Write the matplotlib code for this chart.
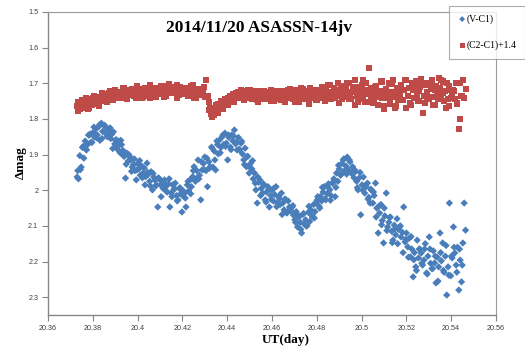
import matplotlib
matplotlib.use("Agg")
import matplotlib.pyplot as plt

# ---- data ----
ut_day = [
    20.3730, 20.3736, 20.3742, 20.3748, 20.3754, 20.3760, 20.3766, 20.3772, 20.3778, 20.3784,
    20.3790, 20.3796, 20.3802, 20.3808, 20.3814, 20.3820, 20.3826, 20.3832, 20.3838, 20.3844,
    20.3850, 20.3856, 20.3862, 20.3868, 20.3874, 20.3880, 20.3886, 20.3892, 20.3898, 20.3904,
    20.3910, 20.3916, 20.3922, 20.3928, 20.3934, 20.3940, 20.3946, 20.3952, 20.3958, 20.3964,
    20.3970, 20.3976, 20.3982, 20.3988, 20.3994, 20.4000, 20.4006, 20.4012, 20.4018, 20.4024,
    20.4030, 20.4036, 20.4042, 20.4048, 20.4054, 20.4060, 20.4066, 20.4072, 20.4078, 20.4084,
    20.4090, 20.4096, 20.4102, 20.4108, 20.4114, 20.4120, 20.4126, 20.4132, 20.4138, 20.4144,
    20.4150, 20.4156, 20.4162, 20.4168, 20.4174, 20.4180, 20.4186, 20.4192, 20.4198, 20.4204,
    20.4210, 20.4216, 20.4222, 20.4228, 20.4234, 20.4240, 20.4246, 20.4252, 20.4258, 20.4264,
    20.4270, 20.4276, 20.4282, 20.4288, 20.4294, 20.4300, 20.4306, 20.4312, 20.4318, 20.4324,
    20.4330, 20.4336, 20.4342, 20.4348, 20.4354, 20.4360, 20.4366, 20.4372, 20.4378, 20.4384,
    20.4390, 20.4396, 20.4402, 20.4408, 20.4414, 20.4420, 20.4426, 20.4432, 20.4438, 20.4444,
    20.4450, 20.4456, 20.4462, 20.4468, 20.4474, 20.4480, 20.4486, 20.4492, 20.4498, 20.4504,
    20.4510, 20.4516, 20.4522, 20.4528, 20.4534, 20.4540, 20.4546, 20.4552, 20.4558, 20.4564,
    20.4570, 20.4576, 20.4582, 20.4588, 20.4594, 20.4600, 20.4606, 20.4612, 20.4618, 20.4624,
    20.4630, 20.4636, 20.4642, 20.4648, 20.4654, 20.4660, 20.4666, 20.4672, 20.4678, 20.4684,
    20.4690, 20.4696, 20.4702, 20.4708, 20.4714, 20.4720, 20.4726, 20.4732, 20.4738, 20.4744,
    20.4750, 20.4756, 20.4762, 20.4768, 20.4774, 20.4780, 20.4786, 20.4792, 20.4798, 20.4804,
    20.4810, 20.4816, 20.4822, 20.4828, 20.4834, 20.4840, 20.4846, 20.4852, 20.4858, 20.4864,
    20.4870, 20.4876, 20.4882, 20.4888, 20.4894, 20.4900, 20.4906, 20.4912, 20.4918, 20.4924,
    20.4930, 20.4936, 20.4942, 20.4948, 20.4954, 20.4960, 20.4966, 20.4972, 20.4978, 20.4984,
    20.4990, 20.4996, 20.5002, 20.5008, 20.5014, 20.5020, 20.5026, 20.5032, 20.5038, 20.5044,
    20.5050, 20.5056, 20.5062, 20.5068, 20.5074, 20.5080, 20.5086, 20.5092, 20.5098, 20.5104,
    20.5110, 20.5116, 20.5122, 20.5128, 20.5134, 20.5140, 20.5146, 20.5152, 20.5158, 20.5164,
    20.5170, 20.5176, 20.5182, 20.5188, 20.5194, 20.5200, 20.5206, 20.5212, 20.5218, 20.5224,
    20.5230, 20.5236, 20.5242, 20.5248, 20.5254, 20.5260, 20.5266, 20.5272, 20.5278, 20.5284,
    20.5290, 20.5296, 20.5302, 20.5308, 20.5314, 20.5320, 20.5326, 20.5332, 20.5338, 20.5344,
    20.5350, 20.5356, 20.5362, 20.5368, 20.5374, 20.5380, 20.5386, 20.5392, 20.5398, 20.5404,
    20.5410, 20.5416, 20.5422, 20.5428, 20.5434, 20.5440, 20.5446, 20.5452, 20.5458, 20.5464,
    # second (interleaved) group of frames
    20.3733, 20.3745, 20.3757, 20.3769, 20.3781, 20.3793, 20.3805, 20.3817, 20.3829, 20.3841,
    20.3853, 20.3865, 20.3877, 20.3889, 20.3901, 20.3913, 20.3925, 20.3937, 20.3949, 20.3961,
    20.3973, 20.3985, 20.3997, 20.4009, 20.4021, 20.4033, 20.4045, 20.4057, 20.4069, 20.4081,
    20.4093, 20.4105, 20.4117, 20.4129, 20.4141, 20.4153, 20.4165, 20.4177, 20.4189, 20.4201,
    20.4213, 20.4225, 20.4237, 20.4249, 20.4261, 20.4273, 20.4285, 20.4297, 20.4309, 20.4321,
    20.4333, 20.4345, 20.4357, 20.4369, 20.4381, 20.4393, 20.4405, 20.4417, 20.4429, 20.4441,
    20.4453, 20.4465, 20.4477, 20.4489, 20.4501, 20.4513, 20.4525, 20.4537, 20.4549, 20.4561,
    20.4573, 20.4585, 20.4597, 20.4609, 20.4621, 20.4633, 20.4645, 20.4657, 20.4669, 20.4681,
    20.4693, 20.4705, 20.4717, 20.4729, 20.4741, 20.4753, 20.4765, 20.4777, 20.4789, 20.4801,
    20.4813, 20.4825, 20.4837, 20.4849, 20.4861, 20.4873, 20.4885, 20.4897, 20.4909, 20.4921,
    20.4933, 20.4945, 20.4957, 20.4969, 20.4981, 20.4993, 20.5005, 20.5017, 20.5029, 20.5041,
    20.5053, 20.5065, 20.5077, 20.5089, 20.5101, 20.5113, 20.5125, 20.5137, 20.5149, 20.5161,
    20.5173, 20.5185, 20.5197, 20.5209, 20.5221, 20.5233, 20.5245, 20.5257, 20.5269, 20.5281,
    20.5293, 20.5305, 20.5317, 20.5329, 20.5341, 20.5353, 20.5365, 20.5377, 20.5389, 20.5401,
    20.5413, 20.5425, 20.5437, 20.5449,
]

v_c1 = [
    1.963, 1.968, 1.903, 1.935, 1.880, 1.910, 1.862, 1.887, 1.871, 1.845,
    1.842, 1.866, 1.838, 1.851, 1.828, 1.845, 1.822, 1.860, 1.812, 1.835,
    1.818, 1.840, 1.826, 1.848, 1.832, 1.855, 1.842, 1.836, 1.870, 1.858,
    1.878, 1.862, 1.895, 1.872, 1.888, 1.905, 1.966, 1.896, 1.918, 1.905,
    1.915, 1.935, 1.928, 1.945, 1.971, 1.925, 1.940, 1.958, 1.932, 1.952,
    1.938, 1.962, 1.924, 1.955, 1.975, 1.948, 1.999, 1.963, 1.972, 1.985,
    2.047, 1.968, 1.985, 1.975, 1.995, 1.971, 1.990, 2.005, 1.982, 2.047,
    2.008, 1.985, 1.998, 1.980, 2.015, 2.027, 1.995, 2.010, 2.061, 2.002,
    2.008, 2.047, 1.985, 2.002, 1.971, 1.990, 1.962, 1.934, 1.975, 1.945,
    1.915, 1.958, 2.027, 1.943, 1.925, 1.907, 1.945, 1.990, 1.920, 1.934,
    1.879, 1.935, 1.890, 1.943, 1.862, 1.898, 1.859, 1.880, 1.850, 1.872,
    1.840, 1.868, 1.915, 1.852, 1.879, 1.845, 1.862, 1.831, 1.870, 1.887,
    1.852, 1.887, 1.868, 1.898, 1.915, 1.882, 1.934, 1.905, 1.952, 1.925,
    1.940, 1.968, 1.952, 1.999, 2.036, 1.978, 1.971, 1.995, 2.008, 1.985,
    2.027, 2.005, 1.990, 2.047, 2.015, 1.999, 2.030, 2.012, 1.990, 2.036,
    2.018, 2.040, 2.008, 2.036, 2.055, 2.025, 2.064, 2.030, 2.047, 2.058,
    2.047, 2.070, 2.083, 2.060, 2.103, 2.075, 2.090, 2.120, 2.068, 2.095,
    2.083, 2.100, 2.062, 2.088, 2.055, 2.075, 2.040, 2.060, 2.036, 2.018,
    2.045, 2.018, 2.030, 2.005, 1.990, 2.027, 2.010, 1.982, 1.999, 2.015,
    1.980, 1.968, 2.018, 1.952, 1.975, 1.940, 1.958, 1.925, 1.915, 1.945,
    1.932, 1.907, 1.943, 1.920, 1.952, 1.934, 1.965, 1.948, 1.975, 1.999,
    1.965, 2.069, 1.985, 1.963, 2.008, 1.990, 1.980, 2.020, 2.036, 2.000,
    2.036, 2.015, 1.980, 2.050, 2.120, 2.064, 2.040, 2.085, 2.148, 2.072,
    2.008, 2.103, 2.090, 2.075, 2.115, 2.140, 2.098, 2.125, 2.080, 2.110,
    2.103, 2.131, 2.118, 2.047, 2.145, 2.120, 2.159, 2.135, 2.187, 2.165,
    2.243, 2.175, 2.215, 2.140, 2.190, 2.165, 2.176, 2.210, 2.196, 2.150,
    2.232, 2.185, 2.131, 2.205, 2.220, 2.170, 2.204, 2.260, 2.188, 2.215,
    2.120, 2.198, 2.148, 2.230, 2.185, 2.294, 2.215, 2.036, 2.240, 2.190,
    2.103, 2.176, 2.210, 2.160, 2.280, 2.196, 2.257, 2.148, 2.036, 2.112,
    # second group
    1.945, 1.942, 1.877, 1.885, 1.845, 1.865, 1.823, 1.853, 1.817, 1.855,
    1.818, 1.850, 1.825, 1.883, 1.860, 1.887, 1.860, 1.903, 1.927, 1.900,
    1.947, 1.912, 1.943, 1.917, 1.965, 1.985, 1.950, 1.988, 1.953, 1.988,
    1.965, 2.018, 1.978, 2.003, 1.968, 2.018, 1.995, 2.030, 1.993, 2.015,
    2.022, 1.975, 2.010, 1.945, 1.968, 1.968, 1.920, 1.942, 1.910, 1.938,
    1.882, 1.915, 1.872, 1.895, 1.845, 1.877, 1.845, 1.886, 1.848, 1.865,
    1.885, 1.863, 1.928, 1.905, 1.935, 1.917, 1.980, 1.963, 2.015, 1.982,
    2.033, 1.997, 2.026, 1.994, 2.046, 2.024, 2.068, 2.025, 2.062, 2.053,
    2.043, 2.090, 2.070, 2.110, 2.065, 2.100, 2.045, 2.070, 2.078, 2.028,
    2.050, 1.992, 2.024, 1.990, 2.028, 1.977, 1.992, 1.930, 1.955, 1.912,
    1.955, 1.915, 1.953, 1.943, 1.993, 1.950, 2.000, 1.987, 2.025, 1.997,
    2.005, 2.075, 2.045, 2.097, 2.050, 2.113, 2.077, 2.147, 2.108, 2.150,
    2.100, 2.175, 2.138, 2.188, 2.130, 2.195, 2.225, 2.165, 2.205, 2.165,
    2.235, 2.165, 2.220, 2.185, 2.255, 2.175, 2.225, 2.155, 2.238, 2.185,
    2.160, 2.230, 2.165, 2.210,
]

c2_c1_plus = [
    1.765, 1.752, 1.771, 1.758, 1.748, 1.768, 1.760, 1.745, 1.772, 1.755,
    1.748, 1.760, 1.742, 1.756, 1.738, 1.752, 1.765, 1.740, 1.748, 1.735,
    1.742, 1.730, 1.751, 1.738, 1.726, 1.745, 1.735, 1.748, 1.728, 1.740,
    1.735, 1.725, 1.742, 1.730, 1.722, 1.738, 1.728, 1.745, 1.720, 1.732,
    1.728, 1.718, 1.735, 1.722, 1.740, 1.726, 1.715, 1.732, 1.720, 1.738,
    1.722, 1.735, 1.715, 1.728, 1.742, 1.720, 1.730, 1.712, 1.726, 1.738,
    1.718, 1.730, 1.712, 1.725, 1.708, 1.722, 1.735, 1.715, 1.728, 1.720,
    1.715, 1.728, 1.710, 1.722, 1.705, 1.718, 1.732, 1.712, 1.725, 1.716,
    1.722, 1.712, 1.730, 1.718, 1.735, 1.708, 1.725, 1.740, 1.715, 1.728,
    1.720, 1.732, 1.715, 1.728, 1.722, 1.738, 1.690, 1.735, 1.752, 1.768,
    1.785, 1.770, 1.790, 1.762, 1.778, 1.758, 1.772, 1.750, 1.765, 1.755,
    1.745, 1.758, 1.740, 1.752, 1.735, 1.748, 1.730, 1.742, 1.728, 1.738,
    1.725, 1.738, 1.720, 1.732, 1.745, 1.722, 1.735, 1.718, 1.740, 1.730,
    1.728, 1.742, 1.722, 1.735, 1.748, 1.725, 1.738, 1.730, 1.745, 1.722,
    1.730, 1.745, 1.725, 1.738, 1.750, 1.728, 1.740, 1.722, 1.745, 1.735,
    1.740, 1.728, 1.748, 1.722, 1.736, 1.752, 1.730, 1.718, 1.742, 1.735,
    1.728, 1.745, 1.735, 1.720, 1.740, 1.752, 1.725, 1.738, 1.715, 1.742,
    1.735, 1.722, 1.745, 1.712, 1.730, 1.740, 1.718, 1.732, 1.748, 1.725,
    1.720, 1.735, 1.710, 1.742, 1.728, 1.715, 1.738, 1.705, 1.730, 1.745,
    1.725, 1.712, 1.740, 1.720, 1.700, 1.735, 1.718, 1.745, 1.708, 1.728,
    1.715, 1.738, 1.700, 1.728, 1.745, 1.710, 1.722, 1.690, 1.735, 1.752,
    1.718, 1.735, 1.705, 1.745, 1.722, 1.698, 1.730, 1.657, 1.752, 1.712,
    1.728, 1.745, 1.710, 1.738, 1.760, 1.722, 1.695, 1.740, 1.772, 1.730,
    1.715, 1.742, 1.700, 1.758, 1.725, 1.690, 1.738, 1.765, 1.712, 1.748,
    1.730, 1.705, 1.748, 1.720, 1.690, 1.770, 1.735, 1.712, 1.755, 1.700,
    1.718, 1.740, 1.695, 1.728, 1.750, 1.710, 1.688, 1.783, 1.735, 1.705,
    1.725, 1.698, 1.745, 1.715, 1.690, 1.738, 1.760, 1.708, 1.730, 1.685,
    1.712, 1.738, 1.695, 1.750, 1.722, 1.700, 1.745, 1.765, 1.718, 1.732,
    1.720, 1.745, 1.700, 1.758, 1.828, 1.800, 1.735, 1.690, 1.742, 1.715,
    # second group
    1.778, 1.752, 1.765, 1.741, 1.770, 1.748, 1.735, 1.758, 1.742, 1.728,
    1.750, 1.732, 1.722, 1.745, 1.718, 1.738, 1.728, 1.712, 1.742, 1.725,
    1.715, 1.735, 1.708, 1.728, 1.740, 1.712, 1.722, 1.705, 1.732, 1.718,
    1.725, 1.708, 1.738, 1.715, 1.702, 1.728, 1.720, 1.740, 1.710, 1.730,
    1.712, 1.735, 1.722, 1.705, 1.742, 1.718, 1.728, 1.710, 1.738, 1.775,
    1.795, 1.768, 1.782, 1.758, 1.772, 1.748, 1.760, 1.740, 1.752, 1.730,
    1.742, 1.725, 1.748, 1.735, 1.720, 1.745, 1.730, 1.752, 1.722, 1.738,
    1.745, 1.728, 1.718, 1.750, 1.735, 1.722, 1.748, 1.730, 1.742, 1.715,
    1.738, 1.752, 1.725, 1.712, 1.745, 1.730, 1.758, 1.720, 1.735, 1.748,
    1.728, 1.715, 1.750, 1.735, 1.705, 1.742, 1.722, 1.755, 1.712, 1.738,
    1.700, 1.745, 1.725, 1.762, 1.710, 1.735, 1.692, 1.752, 1.720, 1.740,
    1.755, 1.708, 1.738, 1.695, 1.765, 1.725, 1.745, 1.702, 1.770, 1.730,
    1.712, 1.748, 1.690, 1.735, 1.760, 1.705, 1.742, 1.722, 1.698, 1.755,
    1.738, 1.700, 1.762, 1.718, 1.745, 1.692, 1.728, 1.768, 1.708, 1.740,
    1.722, 1.755, 1.698, 1.735,
]

series_labels = ["(V-C1)", "(C2-C1)+1.4"]
title_text = "2014/11/20 ASASSN-14jv"
x_ticks = [20.36, 20.38, 20.40, 20.42, 20.44, 20.46, 20.48, 20.50, 20.52, 20.54, 20.56]
x_tick_labels = ["20.36", "20.38", "20.4", "20.42", "20.44", "20.46", "20.48",
                 "20.5", "20.52", "20.54", "20.56"]
y_ticks = [1.5, 1.6, 1.7, 1.8, 1.9, 2.0, 2.1, 2.2, 2.3]
y_tick_labels = ["1.5", "1.6", "1.7", "1.8", "1.9", "2", "2.1", "2.2", "2.3"]

# ---- figure ----
W, H = 525, 354
fig = plt.figure(figsize=(W / 100, H / 100), dpi=100)
ax = fig.add_axes([48 / W, 1 - 315 / H, (496 - 48) / W, (315 - 12) / H])

blue = "#4A7EBB"
red = "#BE4B48"
ax.scatter(ut_day, v_c1, marker="D", s=14, color=blue, edgecolors="none",
           label=series_labels[0], zorder=3)
ax.scatter(ut_day, c2_c1_plus, marker="s", s=19, color=red, edgecolors="none",
           label=series_labels[1], zorder=3)

ax.set_xlim(20.36, 20.56)
ax.set_ylim(2.35, 1.5)
ax.set_xticks(x_ticks)
ax.set_xticklabels(x_tick_labels)
ax.set_yticks(y_ticks)
ax.set_yticklabels(y_tick_labels)

for lab in ax.get_xticklabels() + ax.get_yticklabels():
    lab.set_fontfamily("Liberation Sans")
    lab.set_fontsize(5.2)
    lab.set_color("#404040")
ax.tick_params(axis="both", direction="out", length=4, width=0.8, color="#868686", pad=3)

for side in ["left", "bottom"]:
    ax.spines[side].set_color("#868686")
    ax.spines[side].set_linewidth(1.0)
for side in ["top", "right"]:
    ax.spines[side].set_color("#9A9A9A")
    ax.spines[side].set_linewidth(0.8)

fig.text(259 / W, 1 - 27.5 / H, title_text, ha="center", va="center",
         fontfamily="Liberation Serif", fontweight="bold", fontsize=12.5)
fig.text(21 / W, 1 - 163 / H, "Δmag", ha="center", va="center", rotation=90,
         fontfamily="Liberation Serif", fontweight="bold", fontsize=9.5)
fig.text(286 / W, 1 - 340 / H, "UT(day)", ha="center", va="center",
         fontfamily="Liberation Serif", fontweight="bold", fontsize=9.5)

leg = fig.legend(loc="upper left", bbox_to_anchor=(449 / W, 1 - 6 / H),
                 frameon=True, fancybox=False, edgecolor="#9A9A9A",
                 prop={"family": "Liberation Serif", "size": 7},
                 handletextpad=0.0, handlelength=1.0, labelspacing=1.75,
                 borderpad=0.85, borderaxespad=0.0, markerscale=0.8)
leg.get_frame().set_linewidth(0.8)

fig.savefig("out.png", dpi=100)
